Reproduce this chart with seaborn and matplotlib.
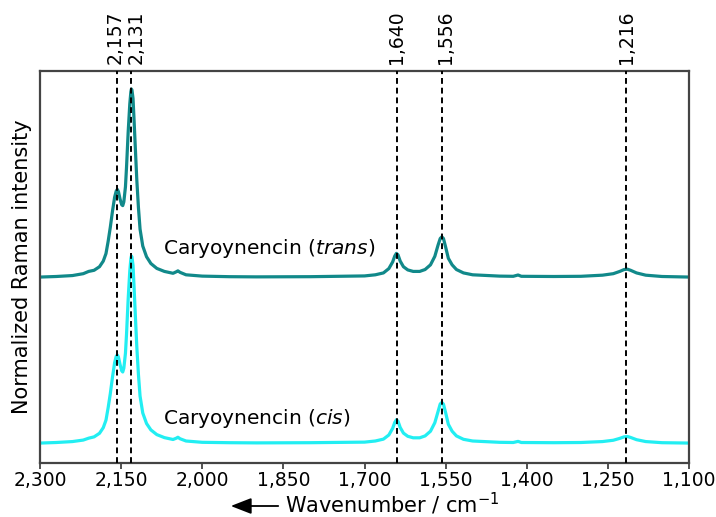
import matplotlib
matplotlib.use("Agg")
import matplotlib.pyplot as plt
import seaborn as sns
import pandas as pd
from matplotlib.ticker import FuncFormatter
import matplotlib.transforms as mtransforms
from matplotlib.patches import FancyArrowPatch

# ---- data ----
trans_wn = [2300, 2270, 2240, 2220, 2210, 2200, 2190, 2183, 2178, 2174, 2170, 2166, 2162, 2159,
            2157, 2155, 2152, 2149, 2147, 2145, 2142, 2140, 2137, 2134, 2132, 2131, 2130, 2128,
            2126, 2123, 2121, 2118, 2115, 2110, 2103, 2095, 2084, 2070, 2054, 2048, 2045, 2041,
            2030, 2000, 1950, 1900, 1800, 1700, 1680, 1665, 1655, 1648, 1644, 1641, 1638, 1634,
            1628, 1620, 1610, 1598, 1588, 1578, 1570, 1564, 1560, 1557, 1554, 1550, 1545, 1538,
            1530, 1517, 1500, 1450, 1425, 1416, 1410, 1350, 1300, 1260, 1240, 1228, 1220, 1214,
            1208, 1197, 1180, 1150, 1100]
trans_int = [0.000, 0.003, 0.008, 0.018, 0.030, 0.036, 0.055, 0.085, 0.125, 0.190, 0.265, 0.350,
             0.425, 0.458, 0.466, 0.455, 0.415, 0.385, 0.380, 0.400, 0.480, 0.585, 0.770, 0.920,
             0.985, 1.000, 0.995, 0.950, 0.830, 0.640, 0.516, 0.370, 0.255, 0.165, 0.108, 0.072,
             0.046, 0.030, 0.020, 0.028, 0.033, 0.025, 0.012, 0.005, 0.002, 0.001, 0.002, 0.006,
             0.012, 0.022, 0.045, 0.080, 0.112, 0.126, 0.118, 0.085, 0.055, 0.038, 0.030, 0.030,
             0.040, 0.065, 0.110, 0.170, 0.205, 0.214, 0.205, 0.160, 0.100, 0.065, 0.040, 0.022,
             0.012, 0.005, 0.004, 0.011, 0.004, 0.003, 0.004, 0.010, 0.018, 0.030, 0.040, 0.042,
             0.036, 0.022, 0.010, 0.003, 0.000]

cis_wn = trans_wn
cis_int = [0.000, 0.003, 0.008, 0.016, 0.026, 0.033, 0.052, 0.082, 0.122, 0.188, 0.263, 0.350,
           0.428, 0.462, 0.468, 0.458, 0.418, 0.385, 0.378, 0.398, 0.478, 0.580, 0.765, 0.915,
           0.980, 0.995, 0.990, 0.945, 0.825, 0.635, 0.512, 0.365, 0.250, 0.160, 0.104, 0.070,
           0.045, 0.029, 0.019, 0.026, 0.031, 0.023, 0.011, 0.004, 0.002, 0.001, 0.002, 0.005,
           0.011, 0.021, 0.043, 0.078, 0.110, 0.124, 0.116, 0.083, 0.053, 0.036, 0.028, 0.028,
           0.038, 0.063, 0.108, 0.168, 0.208, 0.216, 0.207, 0.162, 0.100, 0.063, 0.038, 0.020,
           0.011, 0.004, 0.003, 0.009, 0.003, 0.002, 0.003, 0.008, 0.015, 0.025, 0.033, 0.035,
           0.030, 0.018, 0.008, 0.002, 0.000]

trans_offset = 0.883
marker_lines = [2157, 2131, 1640, 1556, 1216]
marker_labels = ["2,157", "2,131", "1,640", "1,556", "1,216"]
x_ticks = [2300, 2150, 2000, 1850, 1700, 1550, 1400, 1250, 1100]

colors = {"trans": "#11898a", "cis": "#22eef2"}

df = pd.concat([
    pd.DataFrame({"wn": trans_wn, "y": [v + trans_offset for v in trans_int], "form": "trans"}),
    pd.DataFrame({"wn": cis_wn, "y": cis_int, "form": "cis"}),
], ignore_index=True)

sns.set_style("white")
plt.rcParams["font.family"] = ["DejaVu Sans"]
plt.rcParams["text.color"] = "black"
plt.rcParams["axes.labelcolor"] = "black"
plt.rcParams["xtick.color"] = "black"

fig = plt.figure(figsize=(7.16, 5.17), dpi=100)
ax = fig.add_axes([40 / 716, 1 - 463 / 517, 649 / 716, 392 / 517])

sns.lineplot(data=df, x="wn", y="y", hue="form", palette=colors, estimator=None,
             linewidth=2.3, legend=False, ax=ax)

for x in marker_lines:
    ax.axvline(x, color="black", linewidth=1.4, linestyle=(0, (3, 2)), zorder=3)

ax.set_xlim(2300, 1100)
ax.set_ylim(-0.106, 1.979)
ax.set_xticks(x_ticks)
ax.xaxis.set_major_formatter(FuncFormatter(lambda v, p: f"{int(v):,}"))
ax.set_yticks([])
ax.tick_params(axis="x", direction="out", length=4, width=1.2, labelsize=13.5, pad=2,
               bottom=True, color="#333333", labelcolor="black")
for s in ax.spines.values():
    s.set_color("#444444")
    s.set_linewidth(1.6)

ax.set_ylabel("Normalized Raman intensity", fontsize=15, labelpad=6)
ax.set_xlabel("")
fig.text(285 / 716, 1 - 504 / 517, "Wavenumber / cm$^{-1}$", fontsize=15,
         ha="left", va="center")
fig.add_artist(FancyArrowPatch(
    (281 / 716, 1 - 506 / 517), (228 / 716, 1 - 506 / 517), transform=fig.transFigure,
    arrowstyle="-|>,head_length=0.9,head_width=0.35", mutation_scale=14,
    color="black", linewidth=1.3))

blend = mtransforms.blended_transform_factory(ax.transData, ax.transAxes)
offsets = [-2, 5, 0, 3, 0]
for x, lab, dx in zip(marker_lines, marker_labels, offsets):
    ax.annotate(lab, xy=(x, 1.0), xycoords=blend, xytext=(dx * 0.72, 5),
                textcoords="offset points", rotation=90, ha="center", va="bottom",
                fontsize=13.5, annotation_clip=False)

ax.text(2073, trans_offset + 0.12, "Caryoynencin ($\\mathit{trans}$)", fontsize=14.5,
        va="baseline", ha="left")
ax.text(2073, 0.101, "Caryoynencin ($\\mathit{cis}$)", fontsize=14.5,
        va="baseline", ha="left")

fig.savefig("out.png", dpi=100)
